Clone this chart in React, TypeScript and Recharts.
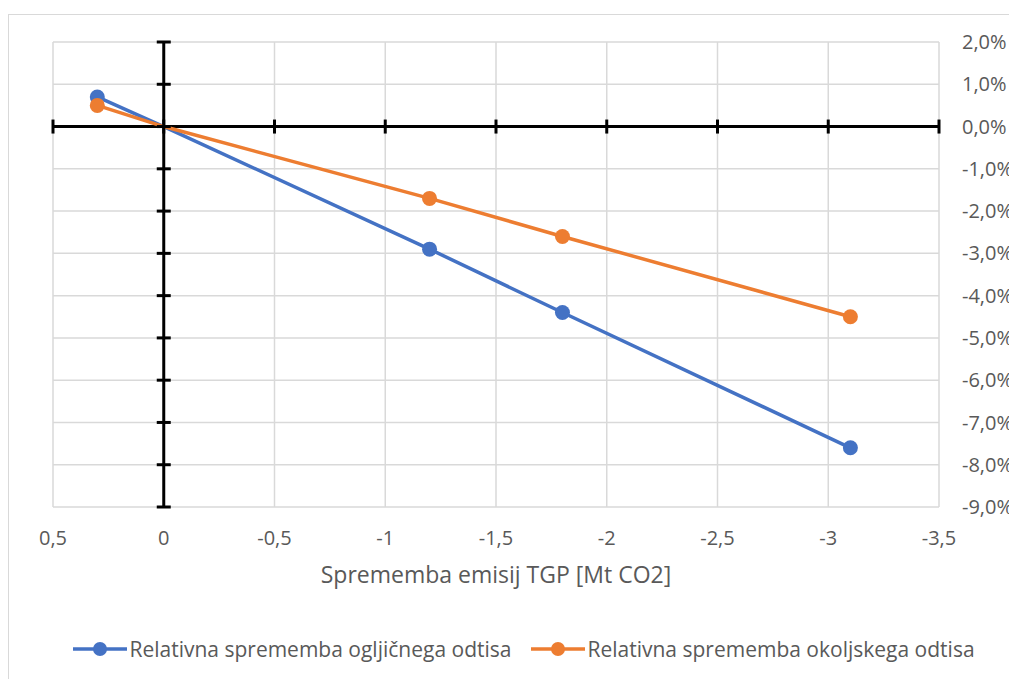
import React from 'react';
import {
  LineChart, Line, XAxis, YAxis, CartesianGrid, ReferenceLine, ReferenceDot, Legend
} from 'recharts';

const X_VALUES = [0.3, 0, -1.2, -1.8, -3.1];
const CARBON = [0.7, 0, -2.9, -4.4, -7.6];
const ENVIRO = [0.5, 0, -1.7, -2.6, -4.5];
const X_TICKS = [0.5, 0, -0.5, -1, -1.5, -2, -2.5, -3, -3.5];
const Y_TICKS = [2, 1, 0, -1, -2, -3, -4, -5, -6, -7, -8, -9];

const SERIES = [
  { name: 'Relativna sprememba ogljičnega odtisa', values: CARBON, color: '#4472C4' },
  { name: 'Relativna sprememba okoljskega odtisa', values: ENVIRO, color: '#ED7D31' },
];

const FONT = '"Open Sans", sans-serif';
const TEXT = '#595959';

const fmtX = (v: number) => String(v).replace('.', ',');
const fmtY = (v: number) => v.toFixed(1).replace('.', ',') + '%';

const makeDot = (color: string) => (props: any) => {
  const { cx, cy, payload, index } = props;
  if (payload.x === 0) return <g key={`d-${index}`} />;
  return <circle key={`d-${index}`} cx={cx} cy={cy} r={7.5} fill={color} stroke="none" />;
};

const VTick = (props: any) => (
  <line x1={props.cx - 7} x2={props.cx + 7} y1={props.cy} y2={props.cy} stroke="#000" strokeWidth={3} />
);
const HTick = (props: any) => (
  <line x1={props.cx} x2={props.cx} y1={props.cy - 7} y2={props.cy + 7} stroke="#000" strokeWidth={3} />
);

const LegendContent = () => (
  <div style={{ display: 'flex', justifyContent: 'center', fontFamily: FONT, fontSize: 21, color: TEXT }}>
    {SERIES.map((s) => (
      <div key={s.name} style={{ display: 'flex', alignItems: 'center', marginRight: 20 }}>
        <svg width={54} height={16} style={{ marginRight: 2 }}>
          <line x1={0} x2={54} y1={8} y2={8} stroke={s.color} strokeWidth={3.5} />
          <circle cx={27} cy={8} r={7} fill={s.color} />
        </svg>
        <span>{s.name}</span>
      </div>
    ))}
  </div>
);

export default function App() {
  const seriesData = SERIES.map((s) => s.values.map((y, i) => ({ x: X_VALUES[i], y })));
  return (
    <div style={{ marginTop: 6, width: 1020, height: 680, border: '1px solid #d9d9d9', boxSizing: 'border-box' }}>
      <LineChart width={1010} height={665} margin={{ top: 27, right: 0, left: 44, bottom: 0 }}>
        <CartesianGrid stroke="#d9d9d9" strokeWidth={1.5} />
        <XAxis
          type="number"
          dataKey="x"
          domain={[-3.5, 0.5]}
          ticks={X_TICKS}
          reversed
          allowDataOverflow
          tickFormatter={fmtX}
          axisLine={false}
          tickLine={false}
          tickSize={0}
          tickMargin={24}
          height={145}
          tick={{ fill: TEXT, fontSize: 20, fontFamily: FONT }}
          label={{ value: 'Sprememba emisij TGP [Mt CO2]', position: 'insideTop', offset: 60, fill: TEXT, fontSize: 23, fontFamily: FONT }}
        />
        <YAxis
          type="number"
          orientation="right"
          domain={[-9, 2]}
          ticks={Y_TICKS}
          allowDataOverflow
          tickFormatter={fmtY}
          axisLine={false}
          tickLine={false}
          tickSize={0}
          tickMargin={23}
          width={80}
          tick={{ fill: TEXT, fontSize: 20, fontFamily: FONT, textAnchor: 'start' }}
        />
        <ReferenceLine x={0} stroke="#000" strokeWidth={3} />
        <ReferenceLine y={0} stroke="#000" strokeWidth={3} />
        {Y_TICKS.map((t) => (
          <ReferenceDot key={`yt-${t}`} x={0} y={t} r={0} shape={VTick} ifOverflow="visible" />
        ))}
        {X_TICKS.map((t) => (
          <ReferenceDot key={`xt-${t}`} x={t} y={0} r={0} shape={HTick} ifOverflow="visible" />
        ))}
        {SERIES.map((s, i) => (
          <Line
            key={s.name}
            data={seriesData[i]}
            dataKey="y"
            name={s.name}
            stroke={s.color}
            strokeWidth={3.5}
            dot={makeDot(s.color)}
            activeDot={false}
            isAnimationActive={false}
          />
        ))}
        <Legend content={LegendContent} wrapperStyle={{ position: 'absolute', top: 620, left: 20, width: 1010 }} />
      </LineChart>
    </div>
  );
}
